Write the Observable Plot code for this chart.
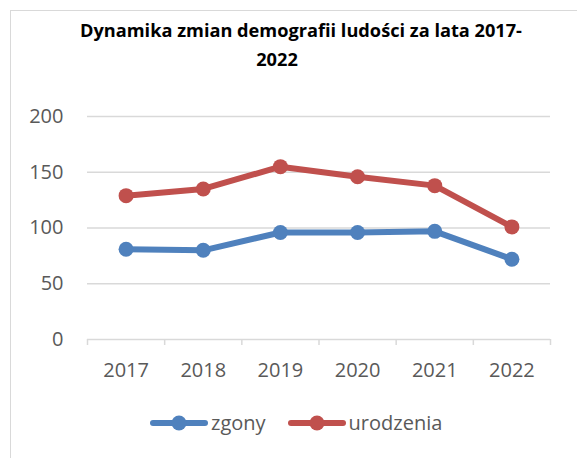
<!DOCTYPE html>
<html><head><meta charset="utf-8">
<script src="https://cdn.jsdelivr.net/npm/d3@7"></script>
<script src="https://cdn.jsdelivr.net/npm/@observablehq/plot@0.6"></script>
<style>
body{margin:0;background:#fff;width:577px;height:458px;overflow:hidden;position:relative;font-family:"Open Sans",sans-serif;}
#frame{position:absolute;left:10px;top:10px;width:567px;height:448px;border-left:1px solid #d9d9d9;border-top:1px solid #d9d9d9;background:#fff;}
.tl{position:absolute;width:500px;text-align:center;font-weight:bold;font-size:18.2px;color:#000;white-space:nowrap;line-height:24px;}
#chart{position:absolute;left:0;top:90px;}
#legend{position:absolute;top:411px;left:150px;display:flex;align-items:center;font-size:20px;color:#595959;line-height:24px;}
#legend .item{display:flex;align-items:center;}
</style></head>
<body>
<div id="frame"></div>
<div class="tl" style="left:51px;top:18px;">Dynamika zmian demografii ludości za lata 2017-</div>
<div class="tl" style="left:27px;top:47px;">2022</div>
<div id="chart"></div>
<div id="legend"></div>
<script>
const years = ["2017","2018","2019","2020","2021","2022"];
const zgony = [81, 80, 96, 96, 97, 72];
const urodzenia = [129, 135, 155, 146, 138, 101];
const yTicks = [0, 50, 100, 150, 200];
const seriesNames = ["zgony", "urodzenia"];
const seriesColors = ["#4F81BD", "#C0504D"];

const rows = years.flatMap((yr, i) => [
  {i, year: yr, series: seriesNames[0], value: zgony[i]},
  {i, year: yr, series: seriesNames[1], value: urodzenia[i]}
]);
const idx = d3.range(years.length);
const bounds = d3.range(years.length + 1).map(k => k - 0.5);
const x1 = -0.5, x2 = years.length - 0.5;

const chart = Plot.plot({
  width: 577, height: 300,
  marginLeft: 87, marginRight: 27, marginTop: 26, marginBottom: 51,
  x: {type: "linear", domain: [x1, x2]},
  y: {domain: [0, 200]},
  color: {domain: seriesNames, range: seriesColors},
  style: {fontFamily: "Open Sans", fontSize: "20px", color: "#595959", background: "transparent", overflow: "visible"},
  marks: [
    Plot.ruleY(yTicks.filter(t => t > 0), {x1, x2, stroke: "#d9d9d9", strokeWidth: 1.5, strokeOpacity: 1}),
    Plot.ruleY([0], {x1, x2, stroke: "#d9d9d9", strokeWidth: 1.5, strokeOpacity: 1}),
    Plot.axisX(bounds, {tickSize: 6, tickFormat: () => "", stroke: "#d9d9d9", strokeWidth: 1.5, strokeOpacity: 1, label: null}),
    Plot.axisX(idx, {tickSize: 0, tickPadding: 23, tickFormat: i => years[i], label: null, fill: "#595959"}),
    Plot.axisY(yTicks, {tickSize: 0, tickPadding: 24, label: null, fill: "#595959"}),
    Plot.line(rows, {x: "i", y: "value", z: "series", stroke: "series", strokeWidth: 6, strokeLinejoin: "round", strokeLinecap: "round"}),
    Plot.dot(rows, {x: "i", y: "value", fill: "series", r: 7.5})
  ]
});
document.getElementById("chart").appendChild(chart);

const legend = d3.select("#legend");
seriesNames.forEach((name, k) => {
  const item = legend.append("div").attr("class", "item").style("margin-right", k === 0 ? "22px" : "0px");
  const svg = item.append("svg").attr("width", 58).attr("height", 20).style("margin-right", "3px");
  svg.append("line").attr("x1", 3).attr("x2", 55).attr("y1", 10).attr("y2", 10)
    .attr("stroke", seriesColors[k]).attr("stroke-width", 6).attr("stroke-linecap", "round");
  svg.append("circle").attr("cx", 29).attr("cy", 10).attr("r", 7.5).attr("fill", seriesColors[k]);
  item.append("span").text(name);
});
</script>
</body></html>
